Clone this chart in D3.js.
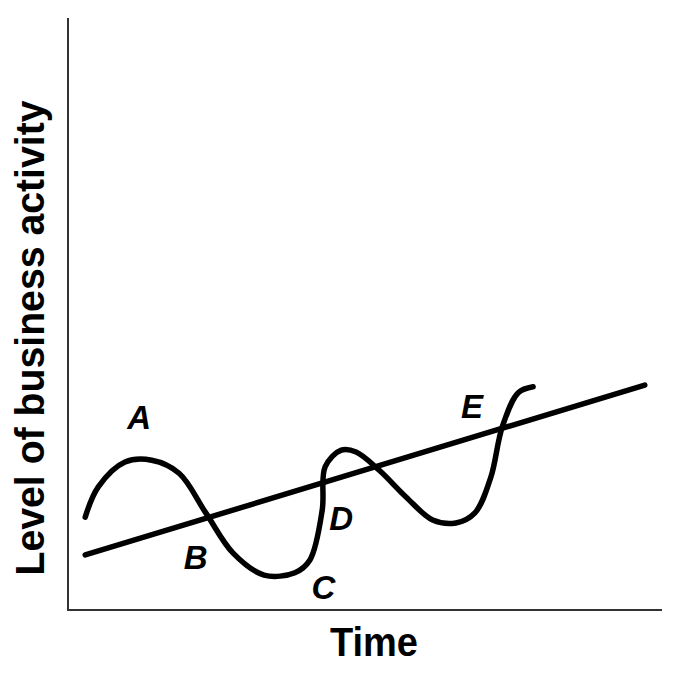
<!DOCTYPE html>
<html><head><meta charset="utf-8">
<script src="https://cdn.jsdelivr.net/npm/d3@7"></script>
<style>body{margin:0;background:#fff}</style></head>
<body><svg id="c" width="682" height="675"></svg>
<script>
const cycleX = [2.9,5.1,9.6,14.1,18.7,23.2,27.8,33.0,38.2,40.7,42.8,43.3,46.0,48.5,52.4,56.9,61.4,65.3,68.5,71.2,73.1,75.8,78.3];
const cycleY = [15.7,20.8,25.0,25.3,23.1,16.4,9.6,5.9,6.3,8.4,16.9,24.2,27.0,26.7,23.6,19.1,15.2,14.7,16.4,22.5,30.9,36.7,37.7];
const trendX = [2.9,97.1];
const trendY = [9.3,38.0];
const labels = ["A","B","C","D","E"];
const labelX = [12.0,21.5,43.0,46.0,68.0];
const labelY = [30.5,7.0,1.8,13.5,32.5];
const xTitle = "Time", yTitle = "Level of business activity";

const svg = d3.select("#c");
const x = d3.scaleLinear().domain([0,100]).range([68,662]);
const y = d3.scaleLinear().domain([0,100]).range([610,18]);
const font = "'Liberation Sans',sans-serif";

svg.append("path").attr("d",`M${x(0)},${y(100)}V${y(0)}H${x(100)}`)
  .attr("fill","none").attr("stroke","#333").attr("stroke-width",2);

const line = d3.line().x(d=>x(d[0])).y(d=>y(d[1]));
svg.append("path").datum(trendX.map((v,i)=>[v,trendY[i]])).attr("d",line)
  .attr("fill","none").attr("stroke","#000").attr("stroke-width",5.5).attr("stroke-linecap","round");
svg.append("path").datum(cycleX.map((v,i)=>[v,cycleY[i]])).attr("d",line.curve(d3.curveCatmullRom))
  .attr("fill","none").attr("stroke","#000").attr("stroke-width",5.5).attr("stroke-linecap","round");

svg.selectAll("text.l").data(labels).join("text").attr("class","l")
  .attr("x",(d,i)=>x(labelX[i])).attr("y",(d,i)=>y(labelY[i]))
  .attr("text-anchor","middle").attr("font-family",font)
  .attr("font-style","italic").attr("font-weight","bold").attr("font-size",33).text(d=>d);

svg.append("text").attr("x",374).attr("y",656).attr("text-anchor","middle")
  .attr("font-family",font).attr("font-weight","bold").attr("font-size",40)
  .attr("textLength",88).attr("lengthAdjust","spacingAndGlyphs").text(xTitle);
svg.append("text").attr("transform","translate(44,338) rotate(-90)").attr("text-anchor","middle")
  .attr("font-family",font).attr("font-weight","bold").attr("font-size",40)
  .attr("textLength",475).attr("lengthAdjust","spacingAndGlyphs").text(yTitle);
</script></body></html>
